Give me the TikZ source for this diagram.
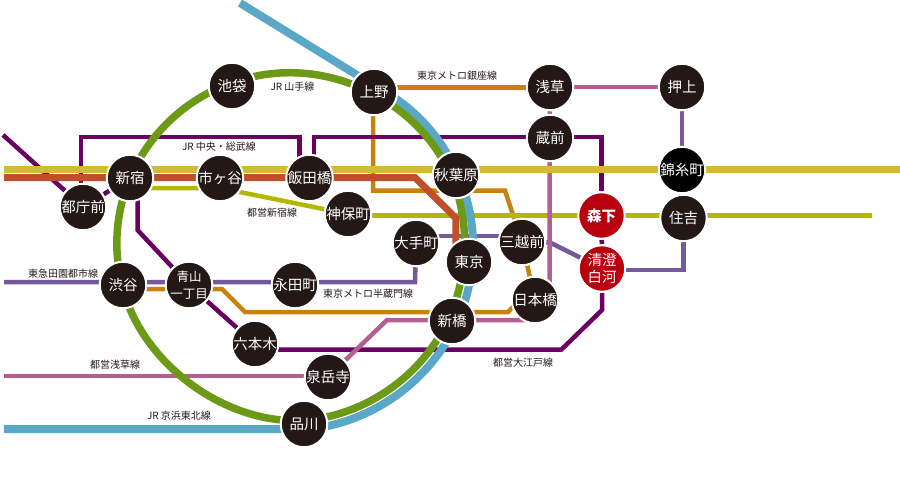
\documentclass[tikz,border=0pt]{standalone}
\usepackage{fontspec}
\setmainfont{Noto Sans CJK JP}
\usetikzlibrary{backgrounds}
\definecolor{inkdark}{HTML}{231815}
\definecolor{kitared}{HTML}{B9000F}
\definecolor{keihinblue}{HTML}{5BA7C7}
\definecolor{yamagreen}{HTML}{6D9A16}
\definecolor{soubuyellow}{HTML}{D3B83A}
\definecolor{chuored}{HTML}{BF502B}
\definecolor{shinjukuolive}{HTML}{B3B700}
\definecolor{ginzaorange}{HTML}{C8810A}
\definecolor{asakusapink}{HTML}{B4608F}
\definecolor{hanzoviolet}{HTML}{75599A}
\definecolor{oedopurple}{HTML}{6A0062}
\tikzset{
  station/.style={circle,draw=white,line width=2pt,fill=inkdark,text=white,minimum size=46.5pt,inner sep=0pt,align=center,font=\fontsize{14.5}{17}\selectfont},
  linelabel/.style={text=inkdark,inner sep=0pt,font=\fontsize{10}{12}\selectfont},
  ginza/.style={draw=ginzaorange,line width=4.5pt},
  oedo/.style={draw=oedopurple,line width=4.5pt},
  hanzomon/.style={draw=hanzoviolet,line width=4.5pt},
  toeishinjuku/.style={draw=shinjukuolive,line width=4.5pt},
  toeiasakusa/.style={draw=asakusapink,line width=4.5pt},
  yamanote/.style={draw=yamagreen,line width=7.5pt},
  keihin/.style={draw=keihinblue,line width=8pt},
  soubu/.style={draw=soubuyellow,line width=7.5pt},
  chuo/.style={draw=chuored,line width=7pt}
}
\begin{document}
\begin{tikzpicture}[x=1pt,y=-1pt]
  \useasboundingbox (0,0) rectangle (900,495);
  \begin{scope}[every node/.style={station}]
    \node (ikebukuro) at (232,86) {池袋};
    \node (ueno) at (374,92) {上野};
    \node (asakusa) at (550,87) {浅草};
    \node (oshiage) at (682,87) {押上};
    \node (kuramae) at (550,138) {蔵前};
    \node (shinjuku) at (130,178) {新宿};
    \node (ichigaya) at (220,178) {市ヶ谷};
    \node (iidabashi) at (309.5,178) {飯田橋};
    \node (akihabara) at (456,175) {秋葉原};
    \node[fill=black] (kinshicho) at (682,170) {錦糸町};
    \node (tochomae) at (83,207) {都庁前};
    \node (jimbocho) at (348,214) {神保町};
    \node[fill=kitared,font=\fontsize{14.5}{17}\selectfont\bfseries] (morishita) at (601.5,215.5) {森下};
    \node (sumiyoshi) at (683.5,218) {住吉};
    \node (otemachi) at (416,243) {大手町};
    \node (mitsukoshimae) at (522,242) {三越前};
    \node (tokyo) at (469,262) {東京};
    \node[fill=kitared] (kiyosumi) at (602,268.5) {清澄\\白河};
    \node (shibuya) at (123,285) {渋谷};
    \node[font=\fontsize{12.5}{16.5}\selectfont] (aoyama) at (189,285) {青山\\一丁目};
    \node (nagatacho) at (295,285) {永田町};
    \node (nihombashi) at (535,300) {日本橋};
    \node (shimbashi) at (452,321) {新橋};
    \node (roppongi) at (255,344) {六本木};
    \node (sengakuji) at (328,377) {泉岳寺};
    \node (shinagawa) at (304,424) {品川};
  \end{scope}
  \begin{scope}[every node/.style={linelabel}]
    \node (yamanotelabel) at (292.5,87) {JR 山手線};
    \node (ginzalabel) at (457,76) {東京メトロ銀座線};
    \node (chuolabel) at (219,147) {JR 中央・総武線};
    \node (shinjukulabel) at (272,213) {都営新宿線};
    \node (denenlabel) at (63,274) {東急田園都市線};
    \node (hanzomonlabel) at (368,294) {東京メトロ半蔵門線};
    \node (oedolabel) at (523,363) {都営大江戸線};
    \node (asakusalabel) at (115,365) {都営浅草線};
    \node (keihinlabel) at (179,416) {JR 京浜東北線};
  \end{scope}
  \coordinate (oedoend) at (3,135);
  \coordinate (denenend) at (4,282);
  \coordinate (olivesend) at (872,215.5);
  \coordinate (asakusaend) at (4,376);
  \coordinate (keihinwest) at (4,429);
  \coordinate (keihinnorth) at (240,3);
  \coordinate (soubuwest) at (4,169.5);
  \coordinate (soubueast) at (900,169.5);
  \coordinate (chuowest) at (4,177.5);
  \begin{scope}[on background layer]
    \draw[ginza] ([yshift=4.5pt]ueno.center) -- ([yshift=-0.5pt]asakusa.center);
    \draw[ginza] ([xshift=-1pt]ueno.center) -- (373,190.7) -- (505,190.7) -- (mitsukoshimae);
    \path (mitsukoshimae) edge[ginza] (nihombashi);
    \draw[ginza] ([yshift=-4pt]shibuya.center) -- ([yshift=-4pt]aoyama.center) -- (222,289) -- (245,312) -- (508,312) -- (513,307) -- (nihombashi);
    \draw[oedo] (oedoend) -- (tochomae);
    \path (tochomae) edge[oedo] (shinjuku);
    \draw[oedo] ([xshift=-2pt]tochomae.center) -- (81,137) -- (299.5,137) -- ([xshift=-10pt]iidabashi.center);
    \draw[oedo] ([xshift=4.5pt]iidabashi.center) -- (314,137) -- (601.5,137) -- (morishita);
    \path (morishita) edge[oedo] (kiyosumi);
    \draw[oedo] (kiyosumi) -- (602,310) -- (561.5,349.5) -- (255,349.5);
    \path (roppongi) edge[oedo] (aoyama);
    \draw[oedo] (aoyama) -- (137.5,230) -- (137.5,178);
    \draw[hanzomon] (denenend) -- ([yshift=3pt]nagatacho.center) -- (415,282) -- (otemachi);
    \draw[hanzomon] ([yshift=7pt]otemachi.center) -- ([yshift=6pt]mitsukoshimae.center);
    \draw[hanzomon] (mitsukoshimae) -- (550,242.5) -- (kiyosumi);
    \draw[hanzomon] ([yshift=-1.5pt]kiyosumi.center) -- (683.5,270) -- (sumiyoshi);
    \path (sumiyoshi) edge[hanzomon] (kinshicho);
    \path (kinshicho) edge[hanzomon] (oshiage);
    \draw[toeishinjuku] ([yshift=-10pt]shinjuku.center) -- ([yshift=-10pt]ichigaya.center) -- (jimbocho);
    \draw[toeishinjuku] ([yshift=-1.5pt]jimbocho.center) -- (olivesend);
    \draw[toeiasakusa] (asakusaend) -- (sengakuji.center |- asakusaend);
    \draw[toeiasakusa] (sengakuji) -- (387,320) -- (535,320);
    \draw[toeiasakusa] ([xshift=-0.5pt]nihombashi.center) -- (549.5,300) -- (549.5,138) -- (asakusa);
    \path (asakusa) edge[toeiasakusa] (oshiage);
    \draw[chuo] (chuowest) -- (415,177.5) -- (455.8,218) -- (455.8,262);
    \draw[keihin] (keihinnorth) -- ([yshift=6.5pt]ueno.center) to[bend left=19.6,looseness=.9] ([xshift=2pt]akihabara.center) to[bend left=14,looseness=.9] ([xshift=3.4pt]tokyo.center) to[bend left=9.5,looseness=.9] ([xshift=5.4pt]shimbashi.center) to[bend left=30.9,looseness=.9] ([yshift=-5.5pt]shinagawa.center) -- (keihinwest -| shinagawa) -- (keihinwest);
    \draw[yamanote] (shinjuku.center) to[bend left=23.4,looseness=.9] ([xshift=-1pt,yshift=3pt]ikebukuro.center) to[bend left=24.1,looseness=.9] ([xshift=-1pt,yshift=-2pt]ueno.center) to[bend left=18.2,looseness=.9] ([xshift=-6.5pt,yshift=3pt]akihabara.center) to[bend left=15,looseness=.9] ([xshift=-5.6pt]tokyo.center) to[bend left=10.1,looseness=.9] ([xshift=-4.5pt]shimbashi.center) to[bend left=30.1,looseness=.9] ([yshift=3.6pt]shinagawa.center) to[bend left=40,looseness=.9] ([xshift=-1pt]shibuya.center) to[bend left=18,looseness=.9] (shinjuku.center);
    \draw[soubu] (soubuwest) -- (soubueast);
  \end{scope}
\end{tikzpicture}
\end{document}
